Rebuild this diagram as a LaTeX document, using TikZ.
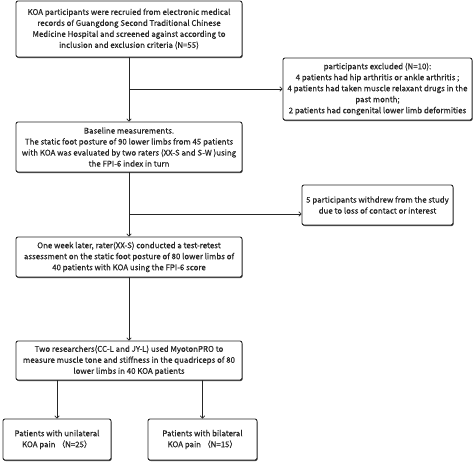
\documentclass[tikz,border=0pt]{standalone}
\usepackage{fontspec}
\setmainfont[FakeBold=0.4]{Noto Sans CJK SC}
\usetikzlibrary{arrows.meta,shadows}
\begin{document}
\begin{tikzpicture}[x=1pt,y=-1pt,
  box/.style={draw=black!85,line width=0.9pt,rounded corners=2pt,fill=white,
    align=center,inner sep=0pt,text=black!85,
    font=\fontsize{7.9}{11}\selectfont,
    drop shadow={shadow xshift=0.6pt,shadow yshift=-1pt,fill=black!75,opacity=1}},
  arr/.style={draw=black!85,line width=0.8pt,-{To[length=3pt,width=5pt]}},
  ln/.style={draw=black!85,line width=0.8pt}]
\useasboundingbox (0,0) rectangle (474,461);
\node[box,minimum width=226pt,minimum height=56pt] (b1) at (129,29)
 {KOA participants were recruied from electronic medical\\records of Guangdong Second Traditional Chinese\\Medicine Hospital and screened against according to\\inclusion and exclusion criteria (N=55)};
\node[box,minimum width=189pt,minimum height=62pt] (ex) at (377.5,89)
 {participants excluded (N=10):\\4 patients had hip arthritis or ankle arthritis ;\\4 patients had taken muscle relaxant drugs in the\\past month;\\2 patients had congenital lower limb deformities};
\node[box,minimum width=226pt,minimum height=50pt] (b2) at (129,147)
 {Baseline measurements.\\The static foot posture of 90 lower limbs from 45 patients\\with KOA was evaluated by two raters (XX-S and S-W )using\\the FPI-6 index in turn};
\node[box,minimum width=151pt,minimum height=40pt] (wd) at (377.5,205)
 {5 participants withdrew from the study\\due to loss of contact or interest};
\node[box,minimum width=226pt,minimum height=40pt] (b3) at (129,257)
 {One week later, rater(XX-S) conducted a test-retest\\assessment on the static foot posture of 80 lower limbs of\\40 patients with KOA using the FPI-6 score};
\node[box,minimum width=226pt,minimum height=39pt] (b4) at (129,360.5)
 {Two researchers(CC-L and JY-L) used MyotonPRO to\\measure muscle tone and stiffness in the quadriceps of 80\\lower limbs in 40 KOA patients};
\node[box,minimum width=108pt,minimum height=41pt] (p1) at (57,439.5)
 {Patients with unilateral\\KOA pain （N=25）};
\node[box,minimum width=109pt,minimum height=41pt] (p2) at (202.5,439.5)
 {Patients with bilateral\\KOA pain （N=15）};
\coordinate (j1) at (b1.south |- 0,89);
\coordinate (j2) at (b2.south |- 0,214);
\draw[arr] (b1.south) -- (b2.north);
\draw[arr] (j1) -- (ex.west |- j1);
\draw[arr] (b2.south) -- (b3.north);
\draw[arr] (j2) -- (wd.west |- j2);
\draw[arr] (b3.south) -- (b4.north);
\draw[arr] (b4.south -| p1.north) -- (p1.north);
\draw[arr] (b4.south -| p2.north) -- (p2.north);
\end{tikzpicture}
\end{document}
